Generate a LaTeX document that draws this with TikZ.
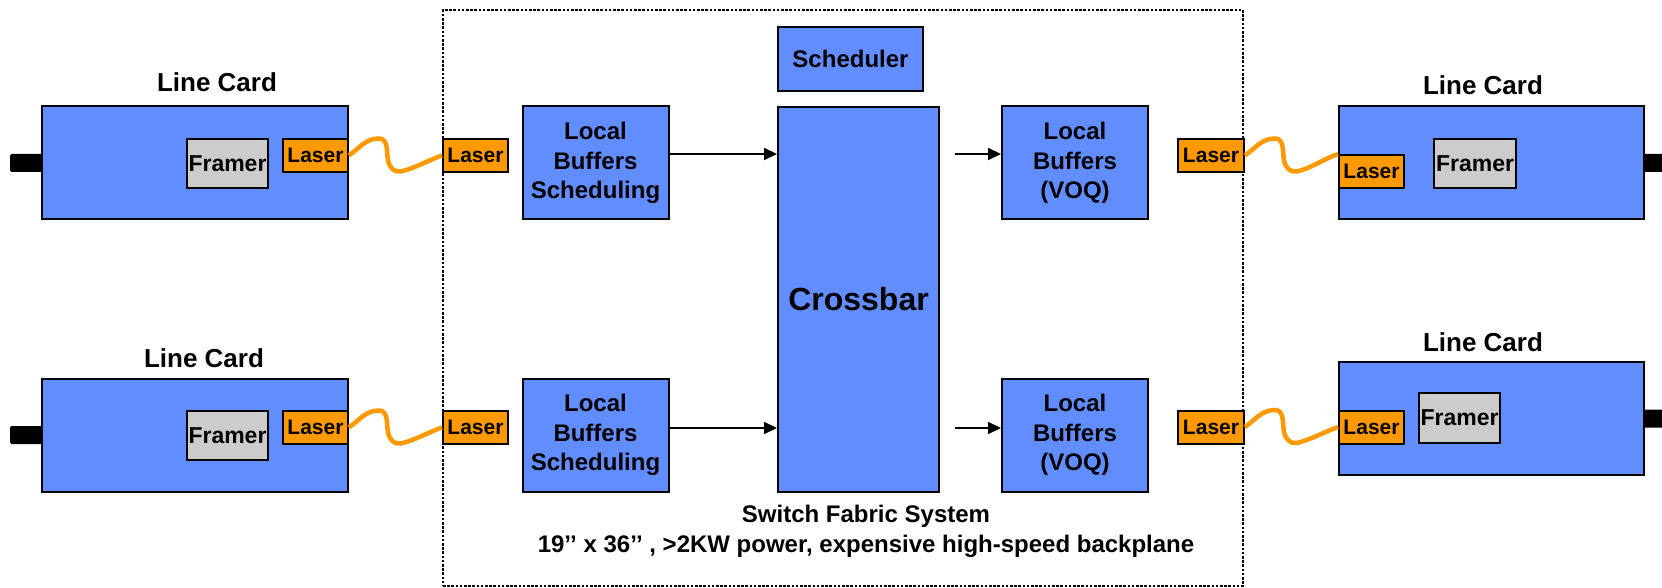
\documentclass[tikz,border=0pt]{standalone}
\usepackage{fontspec}
\setmainfont{Liberation Sans}
\usetikzlibrary{arrows.meta}
\definecolor{cardblue}{RGB}{97,141,255}
\definecolor{laserorange}{RGB}{255,153,0}
\definecolor{framergray}{RGB}{204,204,204}
\tikzset{
  outline/.style={draw, line width=2pt, inner sep=0pt, align=center},
  card/.style={outline, fill=cardblue, minimum width=306pt, minimum height=113pt},
  unit/.style={outline, fill=cardblue, minimum width=146pt, minimum height=113pt,
    font=\bfseries\fontsize{24}{29.5}\selectfont},
  framer/.style={outline, fill=framergray, minimum width=81pt, minimum height=49pt,
    font=\bfseries\fontsize{23}{23}\selectfont},
  laser/.style={outline, fill=laserorange, minimum width=65pt, minimum height=33pt,
    font=\bfseries\fontsize{21}{21}\selectfont},
  plug/.style={fill=black, rounded corners=1.5pt, minimum width=34pt, minimum height=18pt, inner sep=0pt},
  cardtitle/.style={font=\bfseries\fontsize{26}{26}\selectfont},
  fabric/.style={draw, line width=2.4pt, dash pattern=on 2.6pt off 1.6pt, minimum width=800pt, minimum height=576pt},
  fiber/.style={draw=laserorange, line width=4.5pt},
  arr/.style={-{Triangle[length=13pt,width=12pt]}, line width=2pt},
}
\begin{document}
\begin{tikzpicture}[x=1pt, y=1pt]
    \useasboundingbox (0,0) rectangle (1662,587);

    \node[fabric] (sfs) at (843,289) {};
    \node[align=center, font=\bfseries\fontsize{24}{30}\selectfont] (sfscap) at (866,56)
        {Switch Fabric System\\19’’ x 36’’ , >2KW power, expensive high-speed backplane};

    \node[plug] (plugA) at (27,424) {};
    \node[card] (lcA) at (195,424) {};
    \node[cardtitle] (tA) at (217,505) {Line Card};
    \node[framer] (frA) at (227.5,423.5) {Framer};
    \node[laser] (lsA) at (315.5,431.5) {Laser};

    \node[plug] (plugB) at (27,152) {};
    \node[card] (lcB) at (195,152) {};
    \node[cardtitle] (tB) at (204,229) {Line Card};
    \node[framer] (frB) at (227.5,151.5) {Framer};
    \node[laser] (lsB) at (315.5,159.5) {Laser};

    \node[laser] (swlsA) at (475.5,431.5) {Laser};
    \node[laser] (swlsB) at (475.5,159.5) {Laser};
    \node[unit] (lbsA) at (595.5,424) {Local\\Buffers\\Scheduling};
    \node[unit] (lbsB) at (595.5,152) {Local\\Buffers\\Scheduling};

    \node[unit, minimum width=145pt, minimum height=64pt] (sched) at (850.5,528) {Scheduler};
    \node[unit, minimum width=161pt, minimum height=385pt,
        font=\bfseries\fontsize{32}{32}\selectfont] (xbar) at (858.5,287.5) {Crossbar};

    \node[unit] (voqA) at (1075,424) {Local\\Buffers\\(VOQ)};
    \node[unit] (voqB) at (1075,152) {Local\\Buffers\\(VOQ)};
    \node[laser, minimum width=66pt] (swlsC) at (1211,431.5) {Laser};
    \node[laser, minimum width=66pt] (swlsD) at (1211,160) {Laser};

    \node[plug] (plugC) at (1656,424) {};
    \node[card, minimum width=305pt] (lcC) at (1491.5,424) {};
    \node[cardtitle] (tC) at (1483,502) {Line Card};
    \node[framer, minimum width=82pt] (frC) at (1475,423.5) {Framer};
    \node[laser] (lsC) at (1371.5,415.5) {Laser};

    \node[plug] (plugD) at (1656,168.5) {};
    \node[card, minimum width=305pt] (lcD) at (1491.5,168.5) {};
    \node[cardtitle] (tD) at (1483,245) {Line Card};
    \node[framer, minimum height=50pt] (frD) at (1459.5,169) {Framer};
    \node[laser] (lsD) at (1371.5,160) {Laser};

    \coordinate (outA) at (955,433);
    \coordinate (outB) at (955,159);
    \draw[arr] ([yshift=9pt]lbsA.east) -- ([yshift=9pt]lbsA.east -| xbar.west);
    \draw[arr] ([yshift=7pt]lbsB.east) -- ([yshift=7pt]lbsB.east -| xbar.west);
    \draw[arr] (outA) -- (outA -| voqA.west);
    \draw[arr] (outB) -- (outB -| voqB.west);

    \foreach \from/\to in {lsA.east/swlsA.west, lsB.east/swlsB.west,
        swlsC.east/lsC.north west, swlsD.east/lsD.west}
        \draw[fiber] (\from) to[out=35,in=180] ++(30,17) to[out=0,in=100] ++(9,-22)
            to[out=-80,in=195] ++(13,-11) to[out=15,in=200] (\to);

\end{tikzpicture}
\end{document}
